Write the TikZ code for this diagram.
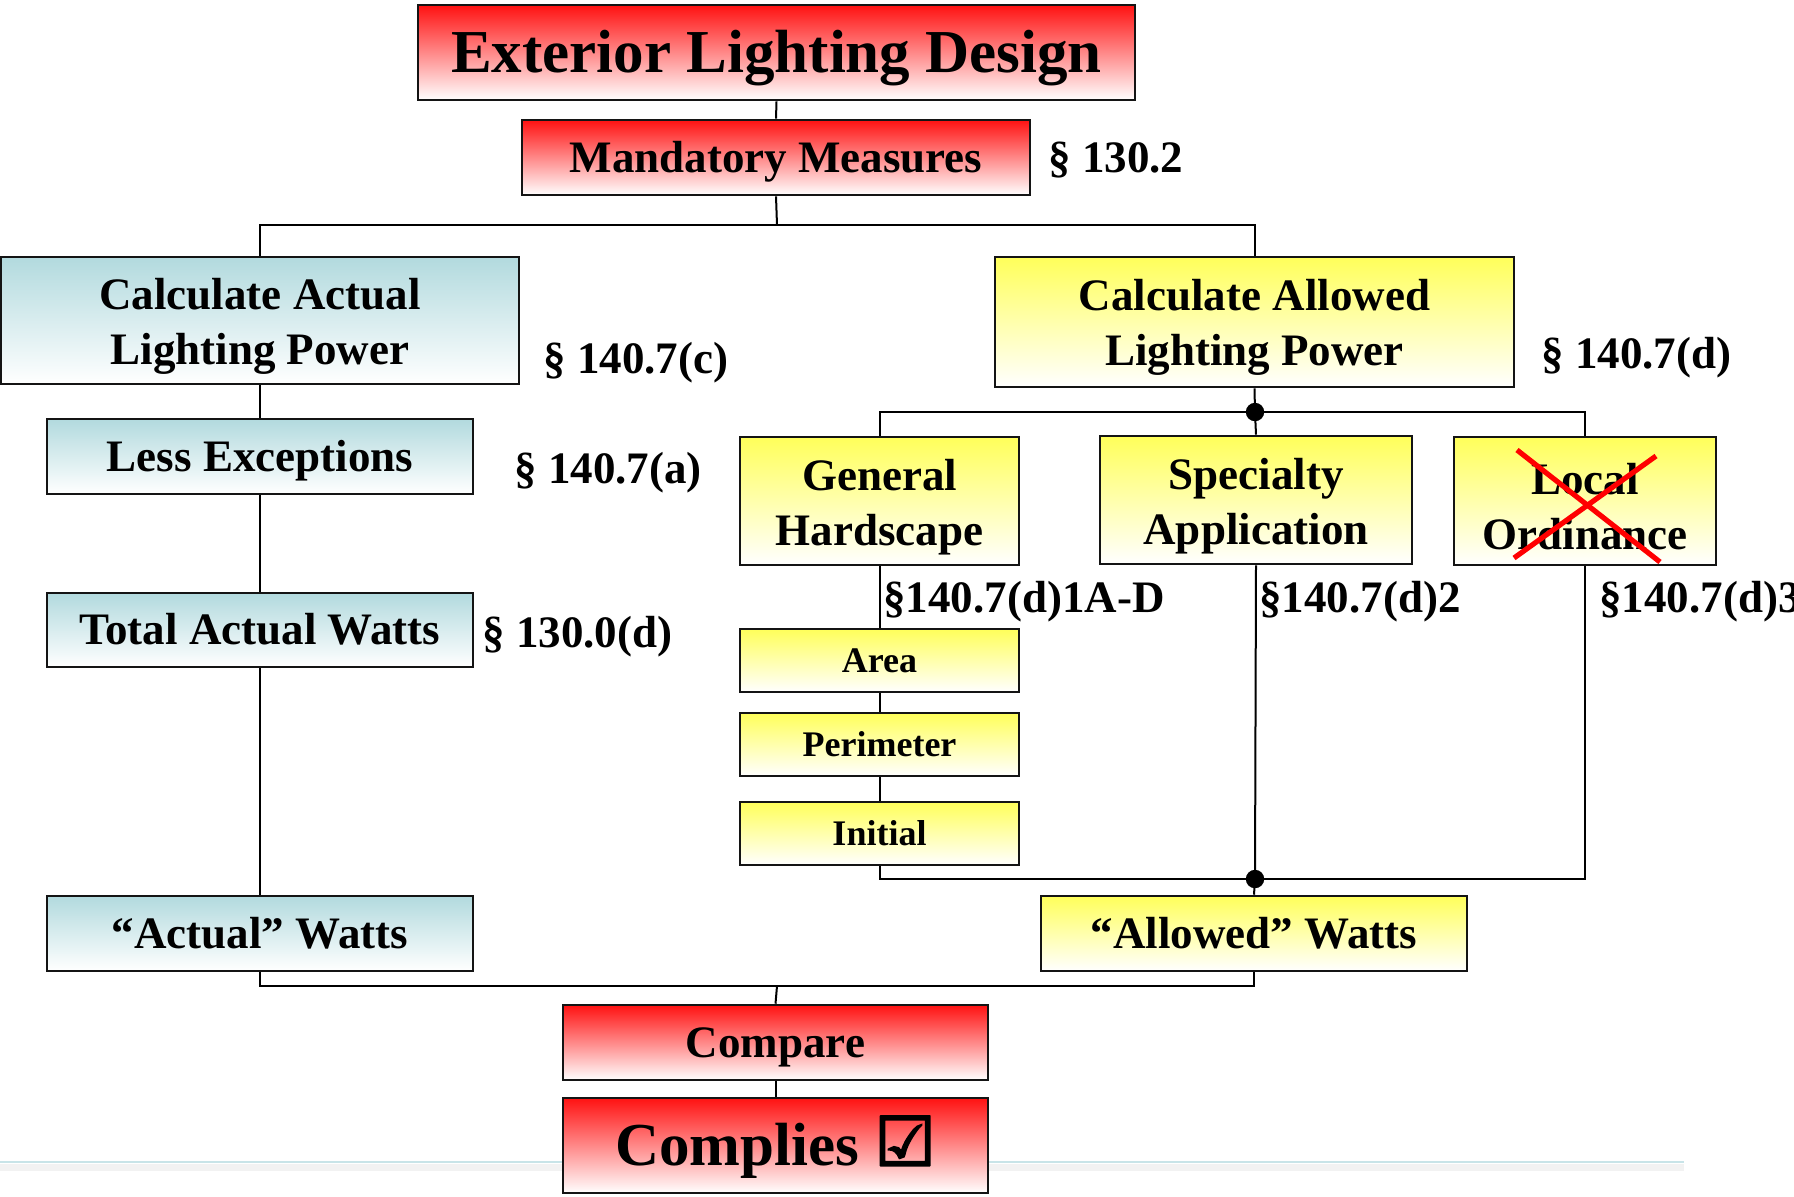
\documentclass[tikz,border=0pt]{standalone}
\usepackage{fontspec}
\setmainfont{Liberation Serif}
\newfontface\djvb{DejaVu Sans}[FakeBold=3]
\usetikzlibrary{calc}
\definecolor{topred}{RGB}{255,18,18}
\definecolor{topteal}{RGB}{178,218,222}
\definecolor{topyel}{RGB}{255,255,90}
\definecolor{foot}{RGB}{200,228,232}
\newcommand\fsA{\fontsize{22.5}{27.5}\selectfont\bfseries}
\newcommand\fsT{\fontsize{30.5}{36}\selectfont\bfseries}
\newcommand\fsS{\fontsize{18}{22}\selectfont\bfseries}
\newcommand\lift{\rule{0pt}{21.3pt}}
\tikzset{
  x=0.5pt, y=-0.5pt,
  bx/.style={draw=black!92, line width=1.3pt, inner sep=0pt, align=center},
  oneA/.style={font=\fsA, text height=14.85pt, text depth=0pt},
  oneT/.style={font=\fsT, text height=20.1pt, text depth=0pt},
  oneS/.style={font=\fsS, text height=11.9pt, text depth=0pt},
  redbx/.style={bx, top color=topred, bottom color=white},
  tealbx/.style={bx, top color=topteal, bottom color=white},
  yelbx/.style={bx, top color=topyel, bottom color=white},
  conn/.style={line width=1pt, black},
  sect/.style={anchor=base west, inner sep=0pt, font=\fsA},
  jdot/.style={fill=black}
}
% name, x1, y1, x2, y2, style, text
\newcommand\placebox[7]{%
  \node[#6, minimum width={(#4-#2)*0.5pt}, minimum height={(#5-#3)*0.5pt}]
    (#1) at ({(#2+#4)/2},{(#3+#5)/2}) {#7};}
\begin{document}
\begin{tikzpicture}
\useasboundingbox (0,0) rectangle (1794,1196);
% footer rule of the slide
\fill[black!5] (0,1164) rectangle (1684,1171);
\draw[foot, line width=1.2pt] (0,1162) -- (1684,1162);

% boxes
\placebox{title}{418}{5}{1135}{100}{redbx,oneT}{Exterior Lighting Design}
\placebox{mand}{522}{120}{1030}{195}{redbx,oneA}{Mandatory Measures}
\placebox{calcA}{1}{257}{519}{384}{tealbx,font=\fsA}{\lift Calculate Actual\\Lighting Power}
\placebox{calcB}{995}{257}{1514}{387}{yelbx,font=\fsA}{\lift Calculate Allowed\\Lighting Power}
\placebox{less}{47}{419}{473}{494}{tealbx,oneA}{Less Exceptions}
\placebox{total}{47}{593}{473}{667}{tealbx,oneA}{Total Actual Watts}
\placebox{actual}{47}{896}{473}{971}{tealbx,oneA}{“Actual” Watts}
\placebox{gen}{740}{437}{1019}{565}{yelbx,font=\fsA}{\lift General\\Hardscape}
\placebox{spec}{1100}{436}{1412}{564}{yelbx,font=\fsA}{\lift Specialty\\Application}
\placebox{loc}{1454}{437}{1716}{565}{yelbx,font=\fsA}{\lift Local\\Ordinance}
\placebox{area}{740}{629}{1019}{692}{yelbx,oneS}{Area}
\placebox{per}{740}{713}{1019}{776}{yelbx,oneS}{Perimeter}
\placebox{init}{740}{802}{1019}{865}{yelbx,oneS}{Initial}
\placebox{allowed}{1041}{896}{1467}{971}{yelbx,oneA}{“Allowed” Watts}
\placebox{compare}{563}{1005}{988}{1080}{redbx,oneA}{Compare}
\placebox{complies}{563}{1098}{988}{1193}{redbx,oneT}{Complies {\djvb\fontsize{34}{36}\selectfont ☑}}

% crossed-out local ordinance
\draw[red, line width=2.6pt] (1517,450) -- (1660,562);
\draw[red, line width=2.6pt] (1656,456) -- (1514,558);

% section labels
\node[sect] (s1) at (1048,172) {§ 130.2};
\node[sect] (s2) at (543,373) {§ 140.7(c)};
\node[sect] (s3) at (1541,368) {§ 140.7(d)};
\node[sect] (s4) at (514,483) {§ 140.7(a)};
\node[sect] (s5) at (482,647) {§ 130.0(d)};
\node[sect] (s6) at (883,612) {§140.7(d)1A-D};
\node[sect] (s7) at (1259,612) {§140.7(d)2};
\node[sect] (s8) at (1599,612) {§140.7(d)3};

% junction coordinates
\coordinate (busT) at (777,225);
\coordinate (busR) at (1255,412);
\coordinate (busL) at (1255,879);
\coordinate (busB) at (777,986);

% connectors
\draw[conn] (title.south) -- (mand.north);
\draw[conn] (mand.south) -- (busT);
\draw[conn] (calcA.north) -- (calcA.north |- busT) -- (calcB.north |- busT) -- (calcB.north);
\draw[conn] (calcA.south) -- (less.north);
\draw[conn] (less.south) -- (total.north);
\draw[conn] (total.south) -- (actual.north);

\draw[conn] (calcB.south) -- (busR);
\draw[conn] (gen.north) -- (gen.north |- busR) -- (loc.north |- busR) -- (loc.north);
\draw[conn] (busR) -- (spec.north);
\fill[jdot] (busR) circle[radius=4.6pt];

\draw[conn] (gen.south) -- (area.north);
\draw[conn] (area.south) -- (per.north);
\draw[conn] (per.south) -- (init.north);
\draw[conn] (init.south) -- (init.south |- busL) -- (loc.south |- busL) -- (loc.south);
\draw[conn] (spec.south) -- (busL);
\draw[conn] (busL) -- (allowed.north);
\fill[jdot] (busL) circle[radius=4.6pt];

\draw[conn] (actual.south) -- (actual.south |- busB) -- (allowed.south |- busB) -- (allowed.south);
\draw[conn] (busB) -- (compare.north);
\draw[conn] (compare.south) -- (complies.north);
\end{tikzpicture}
\end{document}
